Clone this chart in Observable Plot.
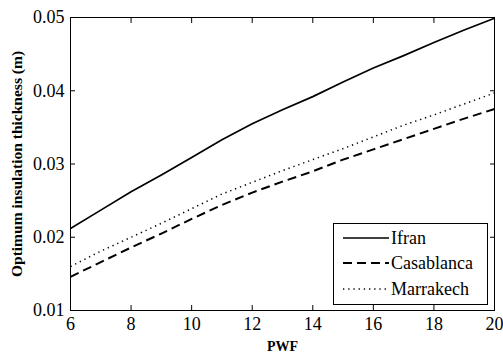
<!DOCTYPE html>
<html>
<head>
<meta charset="utf-8">
<script src="https://cdn.jsdelivr.net/npm/d3@7"></script>
<script src="https://cdn.jsdelivr.net/npm/@observablehq/plot@0.6"></script>
<style>
  body { margin: 0; background: #fff; }
  #chart { position: relative; width: 503px; height: 354px; overflow: hidden; }
  #chart svg.plot { display: block; }
  g[aria-label="y-axis label"] text, g[aria-label="x-axis label"] text { font-weight: bold; }
  g[aria-label="y-axis label"] { font-size: 15.5px; }
  g[aria-label="x-axis label"] { font-size: 14px; }
  #legend { position: absolute; left: 333px; top: 223px; width: 153px; height: 80px;
            border: 1px solid #000; background: #fff; box-sizing: content-box; }
  #legend svg { display: block; }
</style>
</head>
<body>
<div id="chart"></div>
<script>
// ---- data ----
const pwf        = [6, 7, 8, 9, 10, 11, 12, 13, 14, 15, 16, 17, 18, 19, 20];
const ifran      = [0.0212, 0.0237, 0.0262, 0.0285, 0.0309, 0.0333, 0.0355, 0.0374, 0.0392, 0.0412, 0.0431, 0.0448, 0.0466, 0.0483, 0.0499];
const casablanca = [0.0146, 0.0166, 0.0186, 0.0205, 0.0225, 0.0244, 0.0261, 0.0276, 0.0290, 0.0306, 0.0320, 0.0334, 0.0348, 0.0362, 0.0375];
const marrakech  = [0.0160, 0.0181, 0.0200, 0.0219, 0.0239, 0.0259, 0.0275, 0.0291, 0.0306, 0.0321, 0.0337, 0.0353, 0.0367, 0.0382, 0.0397];
const seriesNames = ["Ifran", "Casablanca", "Marrakech"];
const xTicks = [6, 8, 10, 12, 14, 16, 18, 20];
const yTicks = [0.01, 0.02, 0.03, 0.04, 0.05];
const xLabel = "PWF";
const yLabel = "Optimum insulation thickness (m)";

// ---- styles ----
const lineStyle = {
  "Ifran":      {dash: null,      width: 1.7},
  "Casablanca": {dash: "9,5",     width: 2},
  "Marrakech":  {dash: "1.3,3.9", width: 1.5}
};
const TICK = 5;

const seriesValues = [ifran, casablanca, marrakech];
const rows = [];
seriesValues.forEach((vals, i) => vals.forEach((v, j) => rows.push({series: seriesNames[i], pwf: pwf[j], t: v})));

const lineMarks = seriesNames.map(name => Plot.line(rows.filter(d => d.series === name), {
  x: "pwf", y: "t", stroke: "#000",
  strokeWidth: lineStyle[name].width,
  strokeDasharray: lineStyle[name].dash,
  strokeLinecap: "butt"
}));

const blank = () => "";

const chart = Plot.plot({
  width: 503,
  height: 354,
  marginLeft: 70,
  marginRight: 9,
  marginTop: 17,
  marginBottom: 44,
  style: {fontFamily: "'Liberation Serif', 'Times New Roman', serif", fontSize: "18px", color: "#000", background: "#fff"},
  x: {domain: [6, 20]},
  y: {domain: [0.01, 0.05]},
  marks: [
    ...lineMarks,
    // tick labels and axis titles
    Plot.axisX(xTicks, {anchor: "bottom", tickSize: 0, tickPadding: 7, tickFormat: d => String(d),
      label: xLabel, labelAnchor: "center", labelOffset: 40, labelArrow: "none"}),
    Plot.axisY(yTicks, {anchor: "left", tickSize: 0, tickPadding: 6, tickFormat: d3.format(".2f"),
      label: yLabel, labelAnchor: "center", labelOffset: 60, labelArrow: "none"}),
    // inward tick marks on all four sides
    Plot.axisX(xTicks, {anchor: "bottom", tickSize: TICK, dy: -TICK, tickFormat: blank, label: null}),
    Plot.axisX(xTicks, {anchor: "top", tickSize: TICK, dy: TICK, tickFormat: blank, label: null}),
    Plot.axisY(yTicks, {anchor: "left", tickSize: TICK, dx: TICK, tickFormat: blank, label: null}),
    Plot.axisY(yTicks, {anchor: "right", tickSize: TICK, dx: -TICK, tickFormat: blank, label: null}),
    Plot.frame({stroke: "#000", strokeWidth: 1})
  ]
});
chart.classList.add("plot");
document.getElementById("chart").appendChild(chart);

// ---- legend (inside the plot, lower right) ----
const lg = d3.select("#chart").append("div").attr("id", "legend");
const lsvg = lg.append("svg").attr("width", 153).attr("height", 80);
const rowY = [14, 39, 65];
seriesNames.forEach((name, i) => {
  lsvg.append("line")
    .attr("x1", 9).attr("x2", 55).attr("y1", rowY[i]).attr("y2", rowY[i])
    .attr("stroke", "#000").attr("stroke-width", lineStyle[name].width)
    .attr("stroke-dasharray", lineStyle[name].dash);
  lsvg.append("text")
    .attr("x", 57).attr("y", rowY[i]).attr("dy", "0.33em")
    .attr("font-family", "'Liberation Serif', 'Times New Roman', serif")
    .attr("font-size", 18)
    .text(name);
});
</script>
</body>
</html>
